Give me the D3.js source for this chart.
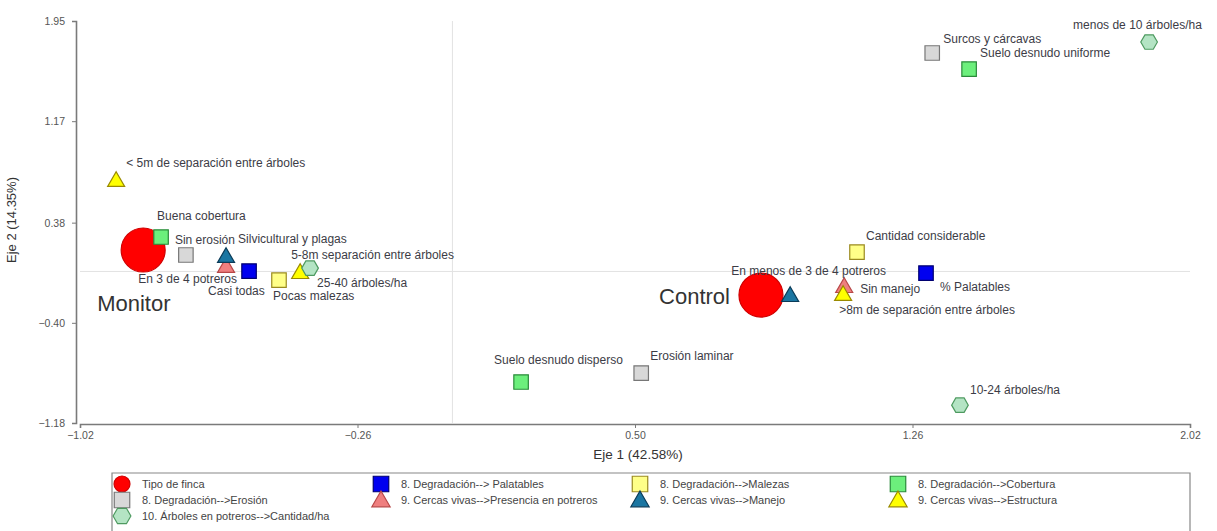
<!DOCTYPE html>
<html>
<head>
<meta charset="utf-8">
<script src="https://cdn.jsdelivr.net/npm/d3@7"></script>
<style>
  html, body { margin: 0; padding: 0; background: #fff; }
  svg { display: block; font-family: Arial, "Liberation Sans", sans-serif; }
</style>
</head>
<body>
<svg id="chart" width="1217" height="531"></svg>
<script>
// Biplot coordinates (Eje 1, Eje 2) for each category
const tipoFinca = [
  { label: "Monitor", x: -0.847, y: 0.167 },
  { label: "Control", x: 0.845, y: -0.184 }
];
const palatables = [
  { label: "Casi todas", x: -0.557, y: 0.003 },
  { label: "% Palatables", x: 1.297, y: -0.013 }
];
const malezas = [
  { label: "Pocas malezas", x: -0.475, y: -0.067 },
  { label: "Cantidad considerable", x: 1.108, y: 0.151 }
];
const cobertura = [
  { label: "Buena cobertura", x: -0.798, y: 0.268 },
  { label: "Suelo desnudo uniforme", x: 1.415, y: 1.576 },
  { label: "Suelo desnudo disperso", x: 0.188, y: -0.861 }
];
const erosion = [
  { label: "Sin erosión", x: -0.730, y: 0.128 },
  { label: "Surcos y cárcavas", x: 1.314, y: 1.701 },
  { label: "Erosión laminar", x: 0.517, y: -0.791 }
];
const presencia = [
  { label: "En 3 de 4 potreros", x: -0.620, y: 0.042 },
  { label: "En menos de 3 de 4 potreros", x: 1.073, y: -0.114 }
];
const manejo = [
  { label: "Silvicultural y plagas", x: -0.620, y: 0.120 },
  { label: "Sin manejo", x: 0.925, y: -0.184 }
];
const estructura = [
  { label: "< 5m de separación entre árboles", x: -0.921, y: 0.712 },
  { label: "5-8m separación entre árboles", x: -0.417, y: -0.005 },
  { label: ">8m de separación entre árboles", x: 1.070, y: -0.176 }
];
const cantidad = [
  { label: "25-40 árboles/ha", x: -0.390, y: 0.026 },
  { label: "menos de 10 árboles/ha", x: 1.908, y: 1.786 },
  { label: "10-24 árboles/ha", x: 1.390, y: -1.041 }
];

const xTicks = [-1.02, -0.26, 0.50, 1.26, 2.02];
const yTicks = [-1.18, -0.40, 0.38, 1.17, 1.95];
const xTitle = "Eje 1 (42.58%)";
const yTitle = "Eje 2 (14.35%)";

// Series definitions: legend text, marker shape and colours
const series = [
  { name: "Tipo de finca", data: tipoFinca, shape: "circle", fill: "#ff0000", stroke: "#d00000" },
  { name: "8. Degradación--> Palatables", data: palatables, shape: "square", fill: "#0000f0", stroke: "#000070" },
  { name: "8. Degradación-->Malezas", data: malezas, shape: "square", fill: "#ffff88", stroke: "#9a8a20" },
  { name: "8. Degradación-->Cobertura", data: cobertura, shape: "square", fill: "#6cef7c", stroke: "#2a8a3a" },
  { name: "8. Degradación-->Erosión", data: erosion, shape: "square", fill: "#d8d8d8", stroke: "#777777" },
  { name: "9. Cercas vivas-->Presencia en potreros", data: presencia, shape: "triangle", fill: "#ef7f7f", stroke: "#b84848" },
  { name: "9. Cercas vivas-->Manejo", data: manejo, shape: "triangle", fill: "#1a76a2", stroke: "#0a3b58" },
  { name: "9. Cercas vivas-->Estructura", data: estructura, shape: "triangle", fill: "#ffff00", stroke: "#9a8a00" },
  { name: "10. Árboles en potreros-->Cantidad/ha", data: cantidad, shape: "hexagon", fill: "#b4e4c4", stroke: "#4e9a60" }
];

// Label placement relative to each marker (pixels): [dx, dy, anchor]
const labelOffsets = {
  "Monitor": [-46, 53], "Control": [-31, 1, "end"],
  "Casi todas": [-41, 20], "% Palatables": [14, 14],
  "Pocas malezas": [-6, 16], "Cantidad considerable": [9, -16],
  "Buena cobertura": [-4, -21], "Suelo desnudo uniforme": [11, -16], "Suelo desnudo disperso": [-27, -22],
  "Sin erosión": [-11, -15], "Surcos y cárcavas": [11, -14], "Erosión laminar": [9, -17],
  "En 3 de 4 potreros": [11, 13, "end"], "En menos de 3 de 4 potreros": [-113, -15],
  "Silvicultural y plagas": [12, -17], "Sin manejo": [70, -6],
  "< 5m de separación entre árboles": [10, -17], "5-8m separación entre árboles": [-9, -17],
  ">8m de separación entre árboles": [-4, 16],
  "25-40 árboles/ha": [7, 15], "menos de 10 árboles/ha": [-76, -17], "10-24 árboles/ha": [10, -15]
};

const svg = d3.select("#chart");
const x = d3.scaleLinear().domain([-1.02, 2.02]).range([80, 1190]);
const y = d3.scaleLinear().domain([-1.18, 1.95]).range([423, 21]);

// Hexagon marker for d3.symbol
const symbolHexagon = {
  draw(context, size) {
    const r = Math.sqrt(size / (1.5 * Math.sqrt(3)));
    for (let i = 0; i < 6; i++) {
      const a = Math.PI / 3 * i;
      const px = r * Math.cos(a), py = r * Math.sin(a);
      if (i === 0) context.moveTo(px, py); else context.lineTo(px, py);
    }
    context.closePath();
  }
};
const shapeType = { circle: d3.symbolCircle, square: d3.symbolSquare, triangle: d3.symbolTriangle, hexagon: symbolHexagon };
const shapeSize = { circle: 1520, square: 210, triangle: 125, hexagon: 180 };
const legendSize = { circle: 200, square: 240, triangle: 145, hexagon: 205 };

// Reference lines through the origin
svg.append("line").attr("x1", x(0)).attr("x2", x(0)).attr("y1", y(1.95)).attr("y2", y(-1.18))
  .attr("stroke", "#e2e2e2").attr("stroke-width", 1);
svg.append("line").attr("x1", x(-1.02)).attr("x2", x(2.02)).attr("y1", y(0)).attr("y2", y(0))
  .attr("stroke", "#e2e2e2").attr("stroke-width", 1);

// Axes
const xAxis = d3.axisBottom(x).tickValues(xTicks).tickFormat(d3.format(".2f")).tickSize(4).tickPadding(4);
const yAxis = d3.axisLeft(y).tickValues(yTicks).tickFormat(d3.format(".2f")).tickSize(4).tickPadding(7);
const gx = svg.append("g").attr("transform", "translate(0,424)").call(xAxis);
const gy = svg.append("g").attr("transform", "translate(76,0)").call(yAxis);
[gx, gy].forEach(g => {
  g.select(".domain").attr("stroke", "#7a7a7a").attr("stroke-width", 1.6);
  g.selectAll(".tick line").attr("stroke", "#7a7a7a");
  g.selectAll(".tick text").attr("fill", "#555").style("font-size", "10.5px").style("font-family", "Arial, 'Liberation Sans', sans-serif");
});

svg.append("text").attr("x", 638).attr("y", 459).attr("text-anchor", "middle")
  .attr("fill", "#333").style("font-size", "13.5px").text(xTitle);
svg.append("text").attr("transform", "translate(16,220) rotate(-90)").attr("text-anchor", "middle")
  .attr("fill", "#333").style("font-size", "13px").text(yTitle);

// Markers and labels
series.forEach(s => {
  const g = svg.append("g");
  const sym = d3.symbol().type(shapeType[s.shape]).size(shapeSize[s.shape]);
  g.selectAll("path").data(s.data).join("path")
    .attr("d", sym)
    .attr("transform", d => `translate(${x(d.x)},${y(d.y)})` + (s.shape === "triangle" ? " translate(0,1.5)" : ""))
    .attr("fill", s.fill).attr("stroke", s.stroke).attr("stroke-width", 1.2);
});
series.forEach(s => {
  svg.append("g").selectAll("text").data(s.data).join("text")
    .attr("x", d => x(d.x) + labelOffsets[d.label][0])
    .attr("y", d => y(d.y) + labelOffsets[d.label][1])
    .attr("dy", "0.35em")
    .attr("text-anchor", d => labelOffsets[d.label][2] || "start")
    .attr("fill", s.shape === "circle" ? "#333" : "#3c3c46")
    .style("font-size", s.shape === "circle" ? "22px" : "12px")
    .text(d => d.label);
});

// Legend
const legend = svg.append("g");
legend.append("path").attr("d", "M112,540 L112,473 L1190,473 L1190,540")
  .attr("fill", "none").attr("stroke", "#888").attr("stroke-width", 1.2);
const colX = [122, 381, 640, 898];
const rowY = [484, 500, 516];
series.forEach((s, i) => {
  const cx = colX[i % 4], cy = rowY[Math.floor(i / 4)];
  legend.append("path")
    .attr("d", d3.symbol().type(shapeType[s.shape]).size(legendSize[s.shape])())
    .attr("transform", `translate(${cx},${cy + (s.shape === "triangle" ? 1.5 : 0)})`)
    .attr("fill", s.fill).attr("stroke", s.stroke).attr("stroke-width", 1.2);
  legend.append("text").attr("x", cx + 20).attr("y", cy).attr("dy", "0.35em")
    .attr("fill", "#444").style("font-size", "11px").text(s.name);
});
</script>
</body>
</html>
